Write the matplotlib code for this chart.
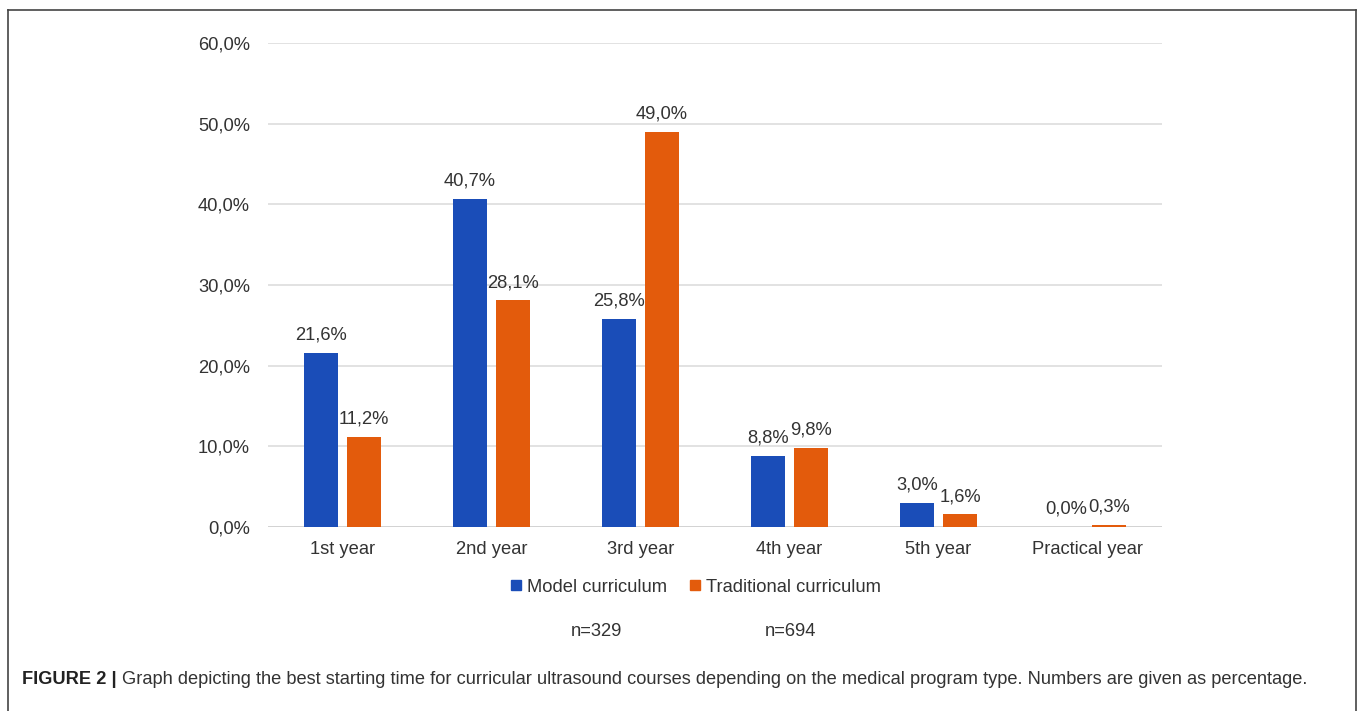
import matplotlib
matplotlib.use("Agg")
import matplotlib.pyplot as plt
from matplotlib.lines import Line2D
import numpy as np

categories = ["1st year", "2nd year", "3rd year", "4th year", "5th year", "Practical year"]
model = [21.6, 40.7, 25.8, 8.8, 3.0, 0.0]
traditional = [11.2, 28.1, 49.0, 9.8, 1.6, 0.3]
series_names = ["Model curriculum", "Traditional curriculum"]
yticks = [0, 10, 20, 30, 40, 50, 60]
n_labels = ["n=329", "n=694"]
caption_bold = "FIGURE 2 |"
caption_text = ("Graph depicting the best starting time for curricular ultrasound courses "
                "depending on the medical program type. Numbers are given as percentage.")

blue = "#1a4db8"
orange = "#e35b0c"
txt = "#333333"
font = ["Liberation Sans", "DejaVu Sans"]
plt.rcParams["font.family"] = font
fs = 13.2

W, H = 1360, 711
fig = plt.figure(figsize=(W / 100, H / 100), dpi=100)
ax = fig.add_axes([268 / W, 1 - 527 / H, 894 / W, (527 - 43) / H])

x = np.arange(len(categories))
bw = 0.228
off = 0.144
b1 = ax.bar(x - off, model, bw, color=blue, zorder=3)
b2 = ax.bar(x + off, traditional, bw, color=orange, zorder=3)

def fmt(v):
    return f"{v:.1f}%".replace(".", ",")

for bars, vals in ((b1, model), (b2, traditional)):
    for r, v in zip(bars, vals):
        ax.annotate(fmt(v), (r.get_x() + r.get_width() / 2, v), xytext=(0, 6.5),
                    textcoords="offset points", ha="center", va="bottom",
                    fontsize=fs, color=txt)

ax.set_xlim(-0.5, len(categories) - 0.5)
ax.set_ylim(0, 60)
ax.set_yticks(yticks)
ax.set_yticklabels([fmt(v) for v in yticks], fontsize=fs, color=txt)
ax.set_xticks(x)
ax.set_xticklabels(categories, fontsize=fs, color=txt)
ax.tick_params(axis="both", length=0)
ax.tick_params(axis="y", pad=13)
ax.tick_params(axis="x", pad=10)
ax.grid(axis="y", color="#dddddd", linewidth=1.2, zorder=0)
for s in ax.spines.values():
    s.set_visible(False)
ax.axhline(0, color="#d0d0d0", linewidth=1.2, zorder=2)

handles = [Line2D([], [], marker="s", linestyle="", markersize=7, color=c) for c in (blue, orange)]
fig.legend(handles, series_names, loc="center", bbox_to_anchor=(696 / W, 1 - 587 / H),
           ncol=2, frameon=False, fontsize=fs, handlelength=0.6, handletextpad=0.3,
           columnspacing=1.2, labelcolor=txt)

fig.text(596 / W, 1 - 632 / H, n_labels[0], ha="center", va="center", fontsize=fs, color=txt)
fig.text(790 / W, 1 - 632 / H, n_labels[1], ha="center", va="center", fontsize=fs, color=txt)

# border
bc = "#444444"
fig.add_artist(Line2D([8 / W, 8 / W], [0, 1 - 10 / H], color=bc, lw=1.2))
fig.add_artist(Line2D([1356 / W, 1356 / W], [0, 1 - 10 / H], color=bc, lw=1.2))
fig.add_artist(Line2D([8 / W, 1356 / W], [1 - 10 / H, 1 - 10 / H], color=bc, lw=1.2))

t1 = fig.text(22 / W, 1 - 680 / H, caption_bold, fontsize=13.15, fontweight="bold",
              color="#222222", va="center")
fig.canvas.draw()
bb = t1.get_window_extent()
fig.text((bb.x1 + 5) / W, 1 - 680 / H, caption_text, fontsize=13.15, color="#333333",
         va="center")

fig.savefig("out.png", dpi=100)
